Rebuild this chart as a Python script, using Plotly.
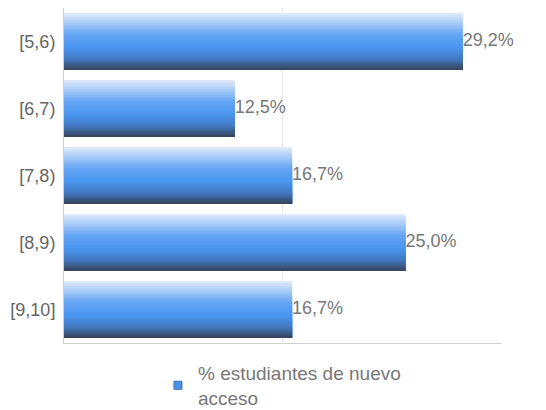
import plotly.graph_objects as go

categories = ["[5,6)", "[6,7)", "[7,8)", "[8,9)", "[9,10]"]
values = [29.2, 12.5, 16.7, 25.0, 16.7]
value_labels = ["29,2%", "12,5%", "16,7%", "25,0%", "16,7%"]
series_name = "% estudiantes de nuevo<br>acceso"

# gradient stops (position 0 = top of bar, 1 = bottom)
stops = [(0.0, (226, 236, 251)), (0.15, (176, 208, 248)), (0.38, (100, 164, 244)),
         (0.6, (74, 150, 240)), (0.8, (67, 122, 196)), (1.0, (54, 66, 88))]

def color_at(t):
    for (t0, c0), (t1, c1) in zip(stops[:-1], stops[1:]):
        if t0 <= t <= t1:
            f = (t - t0) / (t1 - t0)
            return "rgb(%d,%d,%d)" % tuple(round(a + (b - a) * f) for a, b in zip(c0, c1))
    return "rgb(%d,%d,%d)" % stops[-1][1]

N = 30
thick = 0.85
w = thick / N
fig = go.Figure()
for i in range(N):
    t = (i + 0.5) / N
    # each strip reaches to the bar bottom; later strips cover earlier ones
    fig.add_trace(go.Bar(
        y=categories, x=values, orientation="h",
        width=thick - i * w, offset=-thick / 2 + i * w,
        marker=dict(color=color_at(t), line=dict(width=0)),
        name=series_name, showlegend=False, hoverinfo="skip",
    ))

# legend entry
fig.add_trace(go.Scatter(y=[None], x=[None], mode="markers", name=series_name,
                         marker=dict(symbol="square", size=8, color="#4a8fe6",
                                     line=dict(color="#3d6fb0", width=1)),
                         showlegend=True))

# value labels
fig.add_trace(go.Scatter(
    y=categories, x=values, mode="text", text=value_labels,
    textposition="middle right", textfont=dict(size=18, color="#777777"),
    showlegend=False, cliponaxis=False, hoverinfo="skip",
))

fig.update_layout(
    width=538, height=402,
    margin=dict(l=56, r=45, t=0, b=67, autoexpand=False),
    paper_bgcolor="white", plot_bgcolor="white",
    barmode="overlay", bargap=0.15,
    font=dict(family="Liberation Sans, Arial, sans-serif", size=18, color="#666666"),
    showlegend=True,
    legend=dict(orientation="h", x=0.215, xanchor="left", y=-0.033, yanchor="top",
                font=dict(size=19, color="#777777"), itemwidth=30),
    xaxis=dict(range=[0, 32], dtick=16, showticklabels=False, showgrid=True,
               gridcolor="#e8e8e8", gridwidth=1, zeroline=False, automargin=False,
               showline=True, linecolor="#d0d0d0", linewidth=1, mirror=False),
    yaxis=dict(autorange="reversed", showgrid=False, zeroline=False, automargin=False,
               showline=True, linecolor="#d0d0d0", linewidth=1,
               ticks="", ticklabelstandoff=4, tickfont=dict(size=18, color="#666666")),
)

fig.write_html("out.html")
